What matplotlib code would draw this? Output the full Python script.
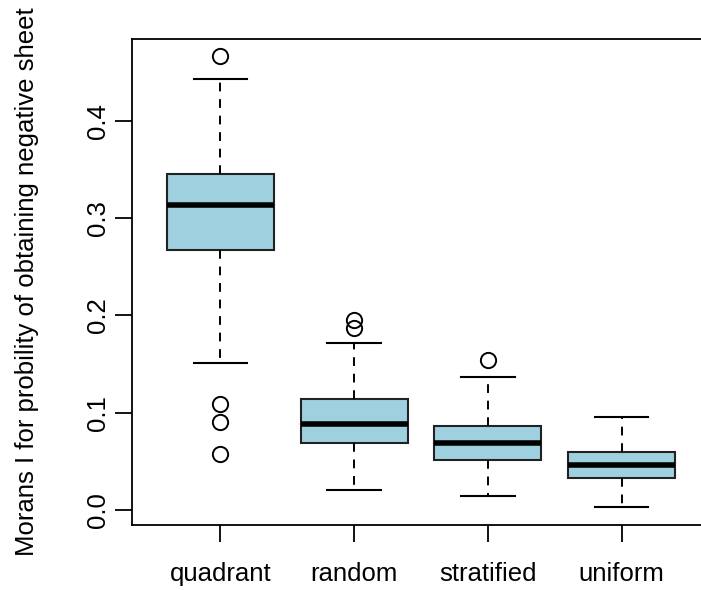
import matplotlib
matplotlib.use("Agg")
import matplotlib.pyplot as plt

plt.rcParams['font.family'] = ['Liberation Sans', 'DejaVu Sans']

groups = ['quadrant', 'random', 'stratified', 'uniform']
whislo = [0.151, 0.021, 0.014, 0.003]
q1 = [0.267, 0.069, 0.051, 0.033]
med = [0.314, 0.088, 0.069, 0.046]
q3 = [0.345, 0.114, 0.086, 0.060]
whishi = [0.443, 0.172, 0.137, 0.096]
fliers = [[0.467, 0.109, 0.091, 0.058], [0.195, 0.187], [0.154], []]

stats = []
for i in range(len(groups)):
    stats.append({'label': groups[i], 'whislo': whislo[i], 'q1': q1[i], 'med': med[i],
                  'q3': q3[i], 'whishi': whishi[i], 'fliers': fliers[i]})

fig = plt.figure(figsize=(7.01, 5.90), dpi=100)
ax = fig.add_axes([0.1883, 0.1102, 0.8245, 0.8237])

ax.bxp(stats, positions=range(1, 5), widths=0.8, capwidths=0.4, patch_artist=True,
       boxprops=dict(facecolor='#9fd0e0', edgecolor='#222222', linewidth=1.5),
       medianprops=dict(color='black', linewidth=4, solid_capstyle='butt'),
       whiskerprops=dict(color='black', linewidth=1.4, linestyle=(0, (4.5, 4))),
       capprops=dict(color='black', linewidth=1.5),
       flierprops=dict(marker='o', markerfacecolor='none', markeredgecolor='black',
                       markersize=11, markeredgewidth=1.4))

ax.set_xlim(0.34, 4.66)
ax.set_ylim(-0.0154, 0.4843)
ax.set_yticks([0.0, 0.1, 0.2, 0.3, 0.4])
ax.set_yticklabels(['0.0', '0.1', '0.2', '0.3', '0.4'], rotation=90, va='center')
ax.tick_params(axis='both', labelsize=18.5, length=12, width=1.3, direction='out')
ax.tick_params(axis='y', pad=4)
ax.tick_params(axis='x', pad=15)
for s in ax.spines.values():
    s.set_linewidth(1.3)
ax.set_ylabel('Morans I for probility of obtaining negative sheet', fontsize=18.5, labelpad=34)

fig.savefig('out.png', dpi=100)
